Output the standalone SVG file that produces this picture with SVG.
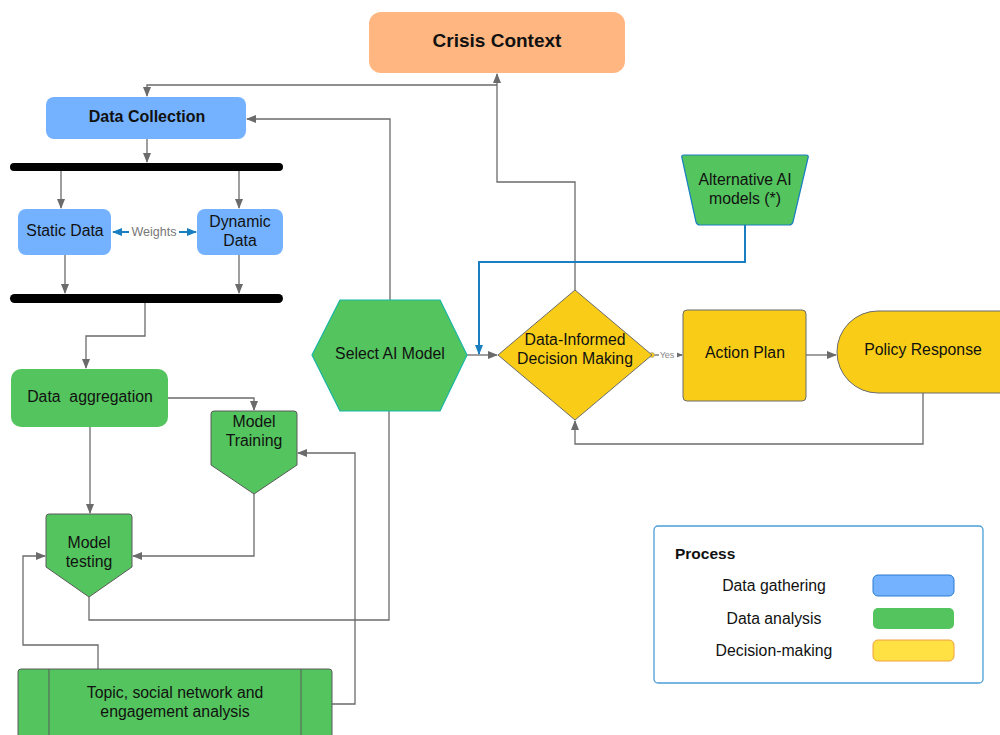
<svg xmlns="http://www.w3.org/2000/svg" width="1000" height="735" viewBox="0 0 1000 735">
<defs>
<marker id="ah" markerWidth="10" markerHeight="8" refX="9" refY="4" orient="auto" markerUnits="userSpaceOnUse"><path d="M0,0 L10,4 L0,8 z" fill="#6b6b6b"/></marker>
<marker id="ahb" markerWidth="10" markerHeight="8" refX="9" refY="4" orient="auto" markerUnits="userSpaceOnUse"><path d="M0,0 L10,4 L0,8 z" fill="#1a7fc1"/></marker>
<marker id="ahbs" markerWidth="10" markerHeight="8" refX="1" refY="4" orient="auto" markerUnits="userSpaceOnUse"><path d="M10,0 L0,4 L10,8 z" fill="#1a7fc1"/></marker>
<style>
text{font-family:"Liberation Sans",Arial,sans-serif;fill:#111;}
.t{font-size:15.8px;text-anchor:middle;}
.b{font-weight:bold;}
.c{fill:none;stroke:#6b6b6b;stroke-width:1.3;}
.cb{fill:none;stroke:#1a7fc1;stroke-width:2;}
.blue{fill:#74B2FF;}
.green{fill:#54C45E;stroke:#5b5b5b;stroke-width:1;}
.yellow{fill:#F9CD17;stroke:#6b6b6b;stroke-width:1;}
.bar{fill:#000;}
</style>
</defs>
<rect width="1000" height="735" fill="#fff"/>

<g id="connectors">
<path class="c" d="M497,85 H147 V96" marker-end="url(#ah)"/>
<path class="c" d="M147,139 V162" marker-end="url(#ah)"/>
<path class="c" d="M61,171 V208" marker-end="url(#ah)"/>
<path class="c" d="M239,163 V208" marker-end="url(#ah)"/>
<path class="c" d="M65,255 V293" marker-end="url(#ah)"/>
<path class="c" d="M239,255 V293" marker-end="url(#ah)"/>
<path class="c" d="M145,303 V336 H86 V368" marker-end="url(#ah)"/>
<path class="c" d="M168,398 H254 V410" marker-end="url(#ah)"/>
<path class="c" d="M90,427 V513" marker-end="url(#ah)"/>
<path class="c" d="M254,494 V556 H133" marker-end="url(#ah)"/>
<path class="c" d="M98,669 V645 H23 V556 H45" marker-end="url(#ah)"/>
<path class="c" d="M89,597 V620 H389 V385" marker-end="url(#ah)"/>
<path class="c" d="M332,704 H355 V453 H298" marker-end="url(#ah)"/>
<path class="c" d="M390,300 V119 H247" marker-end="url(#ah)"/>
<path class="c" d="M575,290 V182 H497 V74" marker-end="url(#ah)"/>
<path class="c" d="M467,355 H497" marker-end="url(#ah)"/>
<path class="cb" d="M745,225 V262 H479 V354" marker-end="url(#ahb)"/>
<path class="c" d="M652,355 H682" marker-end="url(#ah)"/>
<circle cx="652" cy="355" r="2.5" fill="#F9CD17" stroke="#999" stroke-width="0.6"/>
<rect x="659" y="349" width="18" height="11" fill="#fff"/>
<text x="667" y="358" style="font-size:9px;text-anchor:middle;fill:#888;">Yes</text>
<path class="c" d="M806,355 H836" marker-end="url(#ah)"/>
<path class="c" d="M923,393 V444 H575 V421" marker-end="url(#ah)"/>
<path class="cb" d="M113,232 H196" marker-start="url(#ahbs)" marker-end="url(#ahb)"/>
<rect x="129" y="224" width="50" height="15" fill="#fff"/>
<text x="154" y="236" style="font-size:12.5px;text-anchor:middle;fill:#777;">Weights</text>
</g>

<g id="crisis">
<rect x="369" y="12" width="256" height="61" rx="12" fill="#FFB680"/>
<text class="t b" x="497" y="47" style="font-size:19px;">Crisis Context</text>
</g>

<g id="data-collection">
<rect x="46" y="97" width="200" height="42" rx="8" class="blue"/>
<text class="t b" x="147" y="122" style="font-size:16px;">Data Collection</text>
</g>

<g id="bar1"><rect x="10" y="163" width="273" height="8" rx="4" class="bar"/></g>
<g id="bar2"><rect x="10" y="294" width="273" height="9" rx="4.5" class="bar"/></g>

<g id="static-data">
<rect x="18" y="209" width="93" height="46" rx="8" class="blue"/>
<text class="t" x="65" y="236">Static Data</text>
</g>

<g id="dynamic-data">
<rect x="197" y="209" width="86" height="46" rx="8" class="blue"/>
<text class="t" x="240" y="227">Dynamic</text>
<text class="t" x="240" y="246">Data</text>
</g>

<g id="data-aggregation">
<rect x="11" y="369" width="157" height="58" rx="10" fill="#54C45E"/>
<text class="t" x="90" y="402" xml:space="preserve">Data  aggregation</text>
</g>

<g id="model-training">
<path class="green" d="M214,411 H294 Q297,411 297,414 V465 L254,494 L211,465 V414 Q211,411 214,411 Z"/>
<text class="t" x="254" y="427">Model</text>
<text class="t" x="254" y="446">Training</text>
</g>

<g id="model-testing">
<path class="green" d="M49,514 H129 Q132,514 132,517 V567 L89,597 L46,567 V517 Q46,514 49,514 Z"/>
<text class="t" x="89" y="548">Model</text>
<text class="t" x="89" y="567">testing</text>
</g>

<g id="topic">
<rect x="18" y="669" width="314" height="80" rx="3" class="green"/>
<line x1="49" y1="669" x2="49" y2="735" stroke="#5b5b5b" stroke-width="1"/>
<line x1="301" y1="669" x2="301" y2="735" stroke="#5b5b5b" stroke-width="1"/>
<text class="t" x="175" y="698">Topic, social network and</text>
<text class="t" x="175" y="717">engagement analysis</text>
</g>

<g id="select-ai">
<path d="M312,355 L340,300 H440 L467,355 L440,411 H340 Z" fill="#54C45E" stroke="#19B5A5" stroke-width="1.2" stroke-linejoin="round"/>
<text class="t" x="390" y="359">Select AI Model</text>
</g>

<g id="decision">
<path d="M575,290 L652,355 L575,420 L498,355 Z" class="yellow" stroke-linejoin="round"/>
<text class="t" x="575" y="345">Data-Informed</text>
<text class="t" x="575" y="364">Decision Making</text>
</g>

<g id="alternative">
<path d="M684,155 H806 Q809,155 808,158 L793,222 Q792,225 789,225 H700 Q697,225 696,222 L682,158 Q681,155 684,155 Z" fill="#54C45E" stroke="#1a7fc1" stroke-width="1.2"/>
<text class="t" x="745" y="185">Alternative AI</text>
<text class="t" x="745" y="204">models (*)</text>
</g>

<g id="action-plan">
<rect x="683" y="310" width="123" height="91" rx="4" class="yellow"/>
<text class="t" x="745" y="358">Action Plan</text>
</g>

<g id="policy-response">
<rect x="837" y="311" width="205" height="82" rx="41" class="yellow"/>
<text class="t" x="923" y="355">Policy Response</text>
</g>

<g id="legend">
<rect x="654" y="526" width="329" height="157" rx="4" fill="#fff" stroke="#4a9fd6" stroke-width="1.3"/>
<text x="675" y="559" class="b" style="font-size:15.5px;">Process</text>
<text class="t" x="774" y="591">Data gathering</text>
<rect x="873" y="575" width="81" height="21" rx="5" fill="#74B2FF" stroke="#2a7bd0" stroke-width="1"/>
<text class="t" x="774" y="624">Data analysis</text>
<rect x="873" y="608" width="81" height="21" rx="5" fill="#54C45E"/>
<text class="t" x="774" y="656">Decision-making</text>
<rect x="873" y="640" width="81" height="21" rx="5" fill="#FFE143" stroke="#F0A040" stroke-width="1"/>
</g>
</svg>
